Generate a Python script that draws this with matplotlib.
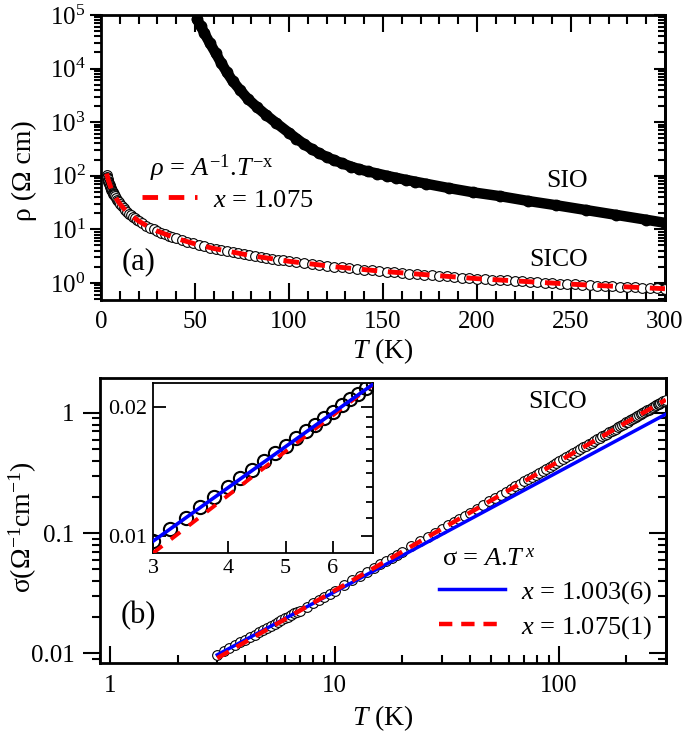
import numpy as np
import matplotlib
matplotlib.use('Agg')
import matplotlib.pyplot as plt
from matplotlib.ticker import (LogLocator, NullFormatter, FixedLocator,
                               FormatStrFormatter, MultipleLocator, NullLocator)

plt.rcParams['font.family'] = 'serif'
plt.rcParams['font.serif'] = ['Liberation Serif', 'DejaVu Serif']
plt.rcParams['mathtext.fontset'] = 'custom'
plt.rcParams['mathtext.rm'] = 'Liberation Serif'
plt.rcParams['mathtext.it'] = 'Liberation Serif:italic'

# SIO resistivity (Ohm cm) vs T (K)
T_sio = [51, 53, 55, 58, 61, 64, 67, 70, 74, 78, 83, 88, 93, 100, 104, 108, 112,
         116, 120, 124, 128, 133, 137, 142, 147, 152, 157, 162, 167, 173, 185,
         198, 212, 227, 242, 258, 274, 290, 300]
rho_sio = [83200, 63100, 45700, 29500, 19500, 12600, 8510, 5890, 3980, 2750,
           1905, 1349, 977, 631, 495, 389, 316, 263, 225, 195, 172, 148, 134,
           120, 110, 100, 91.6, 84.1, 77.8, 70.8, 58.9, 49.0, 41.7, 33.9, 28.2,
           22.9, 18.6, 15.1, 13.2]

# SICO resistivity (Ohm cm) vs T (K)
T_sico = [3.0, 3.2, 3.4, 3.6, 3.8, 4.0, 4.2, 4.4, 4.6, 4.8, 5.0, 5.2, 5.4, 5.6,
          5.8, 6.0, 6.2, 6.4, 6.6, 6.8,
          7, 7.5, 8, 8.5, 9, 9.5, 10,
          11, 12, 13, 14, 15, 16, 17, 18, 19, 20,
          22, 24, 26, 28, 30, 32, 34, 36, 38, 40,
          43, 46, 49, 52, 55, 58, 61, 64, 67, 70, 73, 76, 79, 82, 85, 88, 91, 94,
          97, 100,
          104, 108, 112, 116, 120, 124, 128, 132, 136, 140, 144, 148, 152, 156,
          160, 164, 168, 172, 176, 180, 184, 188, 192, 196, 200, 204, 208, 212,
          216, 220, 224, 228, 232, 236, 240, 244, 248, 252, 256, 260, 264, 268,
          272, 276, 280, 284, 288, 292, 296, 300]
rho_sico = [103.1, 96.5, 90.8, 85.7, 81.1, 77.0, 73.4, 70.0, 66.9, 64.1, 61.5,
            59.1, 56.9, 54.9, 52.9, 51.2, 49.5, 47.9, 46.5, 45.1,
            44.2, 41.05, 38.30, 35.87, 33.75, 31.84, 30.12,
            27.19, 24.76, 22.72, 20.98, 19.48, 18.17, 17.03, 16.01, 15.11, 14.30,
            12.91, 11.75, 10.78, 9.96, 9.25, 8.63, 8.08, 7.60, 7.17, 6.79,
            6.28, 5.84, 5.46, 5.12, 4.82, 4.55, 4.31, 4.09, 3.90, 3.72, 3.56,
            3.40, 3.27, 3.14, 3.02, 2.91, 2.81, 2.71, 2.62, 2.53,
            2.43, 2.33, 2.24, 2.16, 2.08, 2.01, 1.94, 1.88, 1.82, 1.77, 1.71,
            1.66, 1.62, 1.57, 1.53, 1.49, 1.45, 1.41, 1.38, 1.35, 1.32, 1.29,
            1.26, 1.23, 1.20, 1.18, 1.15, 1.13, 1.11, 1.09, 1.07, 1.05, 1.03,
            1.01, 0.989, 0.971, 0.954, 0.938, 0.923, 0.907, 0.893, 0.878, 0.864,
            0.851, 0.838, 0.825, 0.813, 0.801, 0.790, 0.778]

# power-law fit x = 1.075 (resistivity)
fit_T = [3, 4, 5, 6, 7, 8, 10, 12, 15, 20, 25, 30, 40, 50, 60, 80, 100, 125,
         150, 200, 250, 300]
fit_rho = [109.9, 80.6, 63.4, 52.2, 44.2, 38.3, 30.1, 24.8, 19.5, 14.3, 11.25,
           9.25, 6.79, 5.34, 4.39, 3.22, 2.53, 1.99, 1.64, 1.20, 0.947, 0.778]

# power-law fit x = 1.003 (conductivity)
blue_T = [3, 300]
blue_sigma = [0.0097, 0.975]

sigma_sico = 1.0 / np.array(rho_sico)
fit_sigma = 1.0 / np.array(fit_rho)

MINOR_SUBS = (2, 3, 4, 5, 6, 7, 8, 9)

fig = plt.figure(figsize=(6.85, 7.32), dpi=100)

# ---------------- (a) ----------------
ax1 = fig.add_axes([0.1474, 0.5902, 0.8234, 0.3893])
ax1.set_yscale('log')
ax1.plot(T_sio, rho_sio, '-o', color='k', lw=7.5, ms=7.5,
         solid_capstyle='round', zorder=3)
ax1.plot(T_sico, rho_sico, 'o', mfc='white', mec='k', mew=0.8, ms=7, zorder=3)
red1, = ax1.plot(fit_T, fit_rho, '--', color='red', lw=3.5, dashes=(3.2, 2.2),
                 zorder=4)
ax1.set_xlim(0, 300)
ax1.set_ylim(0.48, 1e5)

ax1.xaxis.set_major_locator(MultipleLocator(50))
ax1.xaxis.set_minor_locator(MultipleLocator(10))
ax1.tick_params(axis='x', which='both', direction='in', top=True, bottom=True,
                width=1.5, labelsize=18, pad=8)
ax1.tick_params(axis='x', which='major', length=12.5)
ax1.tick_params(axis='x', which='minor', length=6.5)
ax1.yaxis.set_major_locator(LogLocator(base=10, numticks=12))
ax1.yaxis.set_minor_locator(LogLocator(base=10, subs=MINOR_SUBS, numticks=40))
ax1.yaxis.set_minor_formatter(NullFormatter())
ax1.tick_params(axis='y', which='both', direction='out', right=False,
                width=1.5, labelsize=18, pad=3)
ax1.tick_params(axis='y', which='major', length=8)
ax1.tick_params(axis='y', which='minor', length=5)
sec1 = ax1.secondary_yaxis('right')
sec1.yaxis.set_major_locator(LogLocator(base=10, numticks=12))
sec1.yaxis.set_minor_locator(LogLocator(base=10, subs=MINOR_SUBS, numticks=40))
sec1.tick_params(axis='y', which='both', direction='in', labelright=False, width=1.5)
sec1.tick_params(axis='y', which='major', length=8)
sec1.tick_params(axis='y', which='minor', length=5)
for sp in list(ax1.spines.values()) + list(sec1.spines.values()):
    sp.set_linewidth(2)

ax1.set_xlabel(r'$T$ (K)', fontsize=20, labelpad=2)
ax1.set_ylabel('ρ (Ω cm)', fontsize=20)
ax1.yaxis.set_label_coords(-0.113, 0.453)
ax1.text(0.066, 0.133, '(a)', transform=ax1.transAxes, fontsize=22,
         ha='center', va='center')
ax1.text(0.826, 0.418, 'SIO', transform=ax1.transAxes, fontsize=18.5,
         ha='center', va='center')
ax1.text(0.812, 0.140, 'SICO', transform=ax1.transAxes, fontsize=18.5,
         ha='center', va='center')
ax1.text(0.087, 0.463, r'$\rho$ = $A^{-1}$.$T^{-\mathrm{x}}$', transform=ax1.transAxes,
         fontsize=19, ha='left', va='center')
ax1.legend(handles=[red1], labels=[r'$x$ = 1.075'], loc='center left',
           bbox_to_anchor=(0.0727, 0.351), frameon=False, fontsize=19,
           handlelength=2.1, handletextpad=0.6, borderpad=0, borderaxespad=0)

# ---------------- (b) ----------------
ax2 = fig.add_axes([0.146, 0.0943, 0.826, 0.3893])
ax2.set_xscale('log')
ax2.set_yscale('log')
ax2.plot(T_sico, sigma_sico, 'o', mfc='white', mec='k', mew=0.8, ms=7, zorder=3)
blue2, = ax2.plot(blue_T, blue_sigma, '-', color='blue', lw=2.5, zorder=4)
red2, = ax2.plot(fit_T, fit_sigma, '--', color='red', lw=3.2, dashes=(3.0, 2.0),
                 zorder=5)
ax2.set_xlim(0.9, 300)
ax2.set_ylim(0.0083, 1.95)

ax2.xaxis.set_major_locator(FixedLocator([1, 10, 100]))
ax2.xaxis.set_major_formatter(FormatStrFormatter('%g'))
ax2.xaxis.set_minor_locator(LogLocator(base=10, subs=MINOR_SUBS, numticks=40))
ax2.xaxis.set_minor_formatter(NullFormatter())
ax2.tick_params(axis='x', which='both', direction='in', top=False, bottom=True,
                width=1.5, labelsize=18, pad=9)
ax2.tick_params(axis='x', which='major', length=12.5)
ax2.tick_params(axis='x', which='minor', length=6)
ax2.yaxis.set_major_locator(FixedLocator([0.01, 0.1, 1]))
ax2.yaxis.set_major_formatter(FormatStrFormatter('%g'))
ax2.yaxis.set_minor_locator(LogLocator(base=10, subs=MINOR_SUBS, numticks=40))
ax2.yaxis.set_minor_formatter(NullFormatter())
ax2.tick_params(axis='y', which='both', direction='out', right=False,
                width=1.5, labelsize=18, pad=6)
ax2.tick_params(axis='y', which='major', length=12.5)
ax2.tick_params(axis='y', which='minor', length=6)
sec2 = ax2.secondary_yaxis('right')
sec2.yaxis.set_major_locator(FixedLocator([0.01, 0.1, 1]))
sec2.yaxis.set_minor_locator(LogLocator(base=10, subs=MINOR_SUBS, numticks=40))
sec2.tick_params(axis='y', which='both', direction='in', labelright=False, width=1.5)
sec2.tick_params(axis='y', which='major', length=12.5)
sec2.tick_params(axis='y', which='minor', length=6)
for sp in list(ax2.spines.values()) + list(sec2.spines.values()):
    sp.set_linewidth(2)

ax2.set_xlabel(r'$T$ (K)', fontsize=20, labelpad=4)
ax2.set_ylabel(r'σ(Ω$^{-1}$cm$^{-1}$)', fontsize=20)
ax2.yaxis.set_label_coords(-0.108, 0.477)
ax2.text(0.067, 0.168, '(b)', transform=ax2.transAxes, fontsize=22,
         ha='center', va='center')
ax2.text(0.809, 0.916, 'SICO', transform=ax2.transAxes, fontsize=18.5,
         ha='center', va='center')
ax2.text(0.604, 0.361, r'σ = $A$.$T^{\,x}$', transform=ax2.transAxes,
         fontsize=19, ha='left', va='center')
ax2.legend(handles=[blue2, red2], labels=[r'$x$ = 1.003(6)', r'$x$ = 1.075(1)'],
           loc='center left', bbox_to_anchor=(0.60, 0.186), frameon=False,
           fontsize=19, handlelength=2.5, handletextpad=0.6, labelspacing=0.3,
           borderpad=0, borderaxespad=0)

# ---------------- inset ----------------
axin = fig.add_axes([0.2234, 0.2445, 0.3212, 0.2322])
axin.set_xscale('log')
axin.set_yscale('log')
axin.plot(T_sico, sigma_sico, 'o', mfc='none', mec='k', mew=1.5, ms=9.5, zorder=3)
axin.plot(fit_T, fit_sigma, '--', color='red', lw=2.8, dashes=(3.0, 2.8), zorder=4)
axin.plot(blue_T, blue_sigma, '-', color='blue', lw=2.6, zorder=5)
axin.set_xlim(3, 7)
axin.set_ylim(0.0091, 0.0228)
axin.xaxis.set_major_locator(FixedLocator([3, 4, 5, 6]))
axin.xaxis.set_major_formatter(FormatStrFormatter('%g'))
axin.xaxis.set_minor_locator(NullLocator())
axin.yaxis.set_major_locator(FixedLocator([0.01, 0.02]))
axin.yaxis.set_major_formatter(FormatStrFormatter('%g'))
axin.yaxis.set_minor_locator(FixedLocator([0.011, 0.012, 0.013, 0.014, 0.015,
                                           0.016, 0.017, 0.018, 0.019]))
axin.yaxis.set_minor_formatter(NullFormatter())
axin.tick_params(axis='both', which='both', direction='in', labelsize=16,
                 width=1.3, pad=4)
axin.tick_params(axis='x', which='major', length=9, top=False)
axin.tick_params(axis='y', which='major', length=9, right=True)
axin.tick_params(axis='y', which='minor', length=5, left=False, right=True)
for sp in axin.spines.values():
    sp.set_linewidth(1.3)

fig.savefig('out.png', dpi=100)
